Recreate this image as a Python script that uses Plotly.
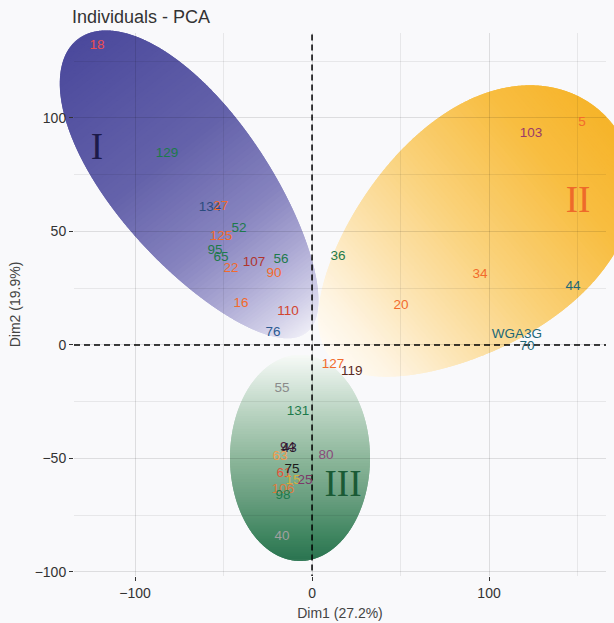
import numpy as np
import plotly.graph_objects as go

# ---------------- data ----------------
labels = ["18", "129", "134", "27", "52", "125", "95", "65", "22", "107", "56", "90", "16", "110", "76",
          "103", "5", "36", "34", "44", "20", "WGA3G", "70", "127", "119",
          "55", "131", "94", "43", "63", "80", "61", "75", "15", "25", "106", "98", "40"]
dim1 = [-121.5, -81.9, -57.6, -51.5, -41.2, -51.4, -54.8, -51.4, -45.8, -32.8, -17.5, -21.5, -40.1, -13.6, -22.0,
        123.7, 152.5, 14.7, 94.9, 147.5, 50.3, 115.8, 121.5, 11.9, 22.4,
        -16.9, -7.9, -13.9, -12.8, -18.1, 7.9, -15.8, -11.3, -10.8, -4.0, -16.4, -16.4, -16.9]
dim2 = [131.7, 84.1, 60.4, 60.8, 51.1, 47.6, 41.4, 38.3, 33.5, 36.1, 37.4, 31.3, 18.1, 14.5, 5.3,
        93.0, 97.8, 38.8, 30.8, 25.6, 17.2, 4.4, -0.9, -8.8, -11.9,
        -19.4, -29.5, -45.2, -45.6, -49.3, -48.9, -56.8, -55.1, -59.7, -59.9, -63.9, -66.6, -84.6]
label_colors = ["#EF4D50", "#1D7A4B", "#2B4B7E", "#F26B2C", "#1D7A4B", "#F26B2C", "#1D7A4B", "#1D7A4B",
                "#F26B2C", "#B0352E", "#1D7A4B", "#F26B2C", "#F26B2C", "#D2442E", "#2B5A92",
                "#9A3A6A", "#F26B2C", "#1D7A4B", "#F26B2C", "#1D6878", "#F26B2C", "#1D6878", "#1D6878",
                "#F26B2C", "#5A2A1E",
                "#8A8A8A", "#1D7A4B", "#4A1E3E", "#2A1A2E", "#F39C4E", "#8A4A7A", "#E5553A", "#1A1A1A",
                "#D4B040", "#7B3A6A", "#E07A3A", "#1D7A4B", "#A0A0A0"]

group_names = ["I", "II", "III"]
group_x = [-121.5, 150.3, 17.5]
group_y = [86.0, 62.6, -62.6]
group_colors = ["#1C1A4A", "#EE6A2A", "#1A5A35"]

x_ticks = [-100, 0, 100]
y_ticks = [-100, -50, 0, 50, 100]

# ---------------- layout geometry ----------------
W, H = 614, 623
ML, MR, MT, MB = 74, 8, 33, 47
XR = [-134.5, 166.1]
YR = [-101.8, 137.4]
KX = (W - ML - MR) / (XR[1] - XR[0])   # px per x unit
KY = (H - MT - MB) / (YR[1] - YR[0])   # px per y unit


def hex2rgb(h):
    h = h.lstrip("#")
    return np.array([int(h[i:i + 2], 16) for i in (0, 2, 4)], float)


def interp_color(stops, s):
    for (s0, c0), (s1, c1) in zip(stops[:-1], stops[1:]):
        if s <= s1:
            f = (s - s0) / (s1 - s0) if s1 > s0 else 0
            c = hex2rgb(c0) * (1 - f) + hex2rgb(c1) * f
            return "rgb(%d,%d,%d)" % tuple(np.round(c))
    c = hex2rgb(stops[-1][1])
    return "rgb(%d,%d,%d)" % tuple(c)


def to_paper(x, y):
    return (x - XR[0]) / (XR[1] - XR[0]), (y - YR[0]) / (YR[1] - YR[0])


def ellipse_strips(cx, cy, a, b, theta_deg, stops, k=0.0, n=120):
    """Gradient-filled (egg-)ellipse, a and b in screen px, built from stacked strips
    (paper-referenced shapes drawn below the grid, so not clipped to the panel)."""
    th = np.radians(theta_deg)
    d = np.array([np.cos(th), np.sin(th)])
    nv = np.array([-np.sin(th), np.cos(th)])
    phis = np.linspace(np.pi, 0, n + 1)
    edges = a * np.cos(phis)  # from -a to a
    out = []
    for i in range(n):
        u0 = edges[i]
        u1 = edges[min(i + 2, n)]  # overlap into next strip to avoid seams
        us = np.linspace(u0, u1, 8)
        half = b * np.sqrt(np.clip(1 - (us / a) ** 2, 0, None)) * (1 - k * us / a)
        pu = np.concatenate([us, us[::-1]])
        pv = np.concatenate([half, -half[::-1]])
        px = pu * d[0] + pv * nv[0]
        py = pu * d[1] + pv * nv[1]
        xs, ys = to_paper(cx + px / KX, cy + py / KY)
        path = "M " + " L ".join("%.5f,%.5f" % (p, q) for p, q in zip(xs, ys)) + " Z"
        s = ((edges[i] + edges[i + 1]) / 2 + a) / (2 * a)
        out.append(dict(type="path", path=path, xref="paper", yref="paper", layer="below",
                        fillcolor=interp_color(stops, s), line=dict(width=0)))
    return out


stops_I = [(0, "#4B499C"), (0.4, "#6462AA"), (0.65, "#8784BF"), (0.8, "#ABA8D3"),
           (0.92, "#CFCDE7"), (1.0, "#EDECF6")]
stops_II = [(0, "#F6B42A"), (0.2, "#F8BD40"), (0.5, "#FAD27C"), (0.72, "#FCE4B2"),
            (0.9, "#FEF4E2"), (1.0, "#FFFBF5")]
stops_III = [(0, "#2A7450"), (0.12, "#3F8560"), (0.31, "#6A9F80"), (0.5, "#8DB79B"),
             (0.72, "#B9D3C1"), (0.85, "#D5E5DA"), (1.0, "#F7FAF7")]

shapes = []
shapes += ellipse_strips(-6.8, -49.8, 103, 70, 90, stops_III)
shapes += ellipse_strips(-67.8, 70.0, 186, 76, -52.0, stops_I, k=0.12)
shapes += ellipse_strips(89.4, 46.6, 183, 112, 220.0, stops_II, k=0.2)

traces = []
# dashed reference lines
traces.append(go.Scatter(x=[0, 0], y=[YR[0] - 2, YR[1]], mode="lines", hoverinfo="skip", showlegend=False,
                         cliponaxis=False,
                         line=dict(color="black", width=1.5, dash="6px,4px")))
traces.append(go.Scatter(x=XR, y=[0, 0], mode="lines", hoverinfo="skip", showlegend=False,
                         line=dict(color="black", width=1.5, dash="6px,4px")))

# point labels
traces.append(go.Scatter(x=dim1, y=dim2, text=labels, mode="text", showlegend=False,
                         textfont=dict(family="Liberation Sans, Arial", size=13.5, color=label_colors),
                         textposition="middle center", cliponaxis=False))
# group numerals
traces.append(go.Scatter(x=group_x, y=group_y, text=group_names, mode="text", showlegend=False,
                         textfont=dict(family="Liberation Serif, Times New Roman", size=37,
                                       color=group_colors),
                         textposition="middle center", cliponaxis=False))

fig = go.Figure(traces)
BG = "#F9F9FB"
fig.update_layout(
    width=W, height=H,
    margin=dict(l=ML, r=MR, t=MT, b=MB, autoexpand=False),
    paper_bgcolor=BG, plot_bgcolor=BG,
    showlegend=False,
    shapes=shapes,
    title=dict(text="Individuals - PCA", x=72 / W, xanchor="left", xref="container",
               y=1 - 17 / H, yanchor="middle", yref="container",
               font=dict(family="Liberation Sans, Arial", size=18, color="#333333")),
    font=dict(family="Liberation Sans, Arial", size=14, color="#333333"),
)
fig.update_xaxes(range=XR, tickvals=x_ticks, showgrid=True, gridcolor="rgba(0,0,0,0.11)", gridwidth=1,
                 zeroline=False, ticks="outside", ticklen=4, tickcolor="#333333",
                 tickfont=dict(size=14, color="#333333"),
                 minor=dict(tickvals=[-150, -50, 50, 150], showgrid=True,
                            gridcolor="rgba(0,0,0,0.07)", ticks=""),
                 title=dict(text="Dim1 (27.2%)", font=dict(size=14, color="#444444"), standoff=8),
                 showline=False)
fig.update_yaxes(range=YR, tickvals=y_ticks, showgrid=True, gridcolor="rgba(0,0,0,0.11)", gridwidth=1,
                 zeroline=False, ticks="outside", ticklen=4, tickcolor="#333333",
                 tickfont=dict(size=14, color="#333333"),
                 minor=dict(tickvals=[-75, -25, 25, 75, 125], showgrid=True,
                            gridcolor="rgba(0,0,0,0.07)", ticks=""),
                 title=dict(text="Dim2 (19.9%)", font=dict(size=14, color="#444444"), standoff=10),
                 showline=False)

fig.write_html("out.html", config={"displayModeBar": False},
               post_script="document.body.style.margin='0';")
